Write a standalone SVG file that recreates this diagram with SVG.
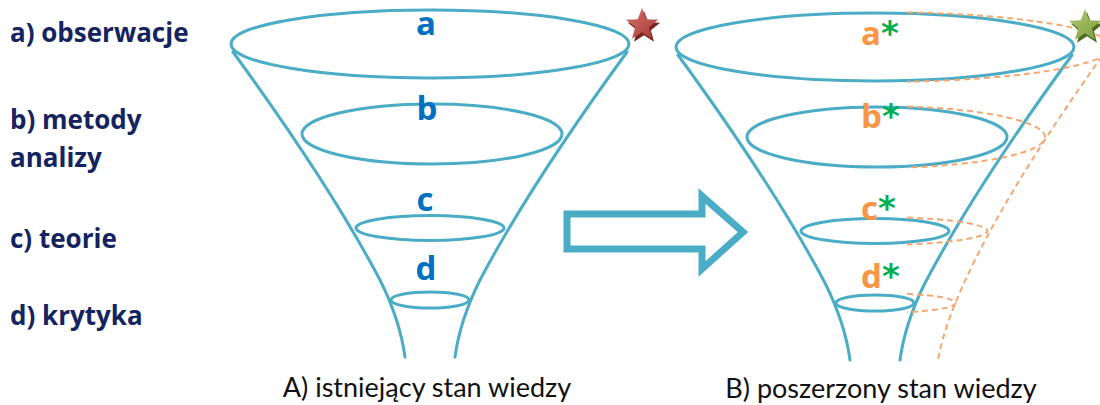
<svg xmlns="http://www.w3.org/2000/svg" width="1100" height="405" viewBox="0 0 1100 405">
<style>
.side{fill:none;stroke:#4BACC6;stroke-width:3;stroke-linecap:round}
.dash{fill:none;stroke:#F4A870;stroke-width:2;stroke-dasharray:6 4}
.lbl{font-family:"Open Sans",Lato,sans-serif;font-weight:bold;font-size:26px;fill:#14245E}
.fl{font-family:"Open Sans",Lato,sans-serif;font-weight:bold;font-size:33px}
.ast{font-family:"DejaVu Sans",sans-serif;font-weight:bold;font-size:34px;fill:#00B050}
.cap{font-family:Lato,"Open Sans",sans-serif;font-size:27px;fill:#111}
</style>
<defs>
<polygon id="star" points="0,-17 4.23,-5.82 16.17,-5.25 6.85,2.22 9.99,13.75 0,7.2 -9.99,13.75 -6.85,2.22 -16.17,-5.25 -4.23,-5.82"/>
<linearGradient id="gr" x1="0" y1="0" x2="1" y2="1">
<stop offset="0" stop-color="#D9706C"/><stop offset="1" stop-color="#A33C39"/>
</linearGradient>
<linearGradient id="gg" x1="0" y1="0" x2="1" y2="1">
<stop offset="0" stop-color="#AFCB72"/><stop offset="1" stop-color="#7E9C40"/>
</linearGradient>
<g id="funnel">
<ellipse class="side" cx="430" cy="44" rx="199" ry="34"/>
<ellipse class="side" cx="432" cy="134" rx="130" ry="30"/>
<ellipse class="side" cx="430" cy="228" rx="74" ry="12.5"/>
<ellipse class="side" cx="430" cy="300" rx="39" ry="8"/>
<path class="side" d="M233,52 Q330,185 380,280 Q400,320 405,357"/>
<path class="side" d="M627,52 Q530,185 480,280 Q460,320 455,357"/>
</g>
</defs>
<g id="labels">
<text class="lbl" x="10" y="42">a) obserwacje</text>
<text class="lbl" x="10" y="129">b) metody</text>
<text class="lbl" x="10" y="167">analizy</text>
<text class="lbl" x="10" y="248">c) teorie</text>
<text class="lbl" x="10" y="325">d) krytyka</text>
</g>
<g id="funnelA">
<use href="#funnel"/>
<text class="fl" fill="#0070C0" text-anchor="middle" x="426" y="35">a</text>
<text class="fl" fill="#0070C0" text-anchor="middle" x="427" y="120">b</text>
<text class="fl" fill="#0070C0" text-anchor="middle" x="425" y="211">c</text>
<text class="fl" fill="#0070C0" text-anchor="middle" x="426" y="280">d</text>
</g>
<g id="starA">
<use href="#star" transform="translate(644,28)" fill="#7A2422"/>
<use href="#star" transform="translate(642,25)" fill="url(#gr)"/>
</g>
<g id="arrow">
<polygon points="567,214 702,214 702,196 743,232 702,269 702,249 567,249" fill="#fff" stroke="#4BACC6" stroke-width="7" stroke-linejoin="miter"/>
</g>
<g id="funnelB">
<use href="#funnel" transform="translate(445,3)"/>
<text class="fl" x="861" y="45"><tspan fill="#F79646">a</tspan><tspan class="ast">*</tspan></text>
<text class="fl" x="861" y="128"><tspan fill="#F79646">b</tspan><tspan class="ast">*</tspan></text>
<text class="fl" x="861" y="220"><tspan fill="#F79646">c</tspan><tspan class="ast">*</tspan></text>
<text class="fl" x="861" y="288"><tspan fill="#F79646">d</tspan><tspan class="ast">*</tspan></text>
</g>
<g id="connectors">
<path class="dash" d="M907,12.3 A235,35 0 0 1 907,81.7"/>
<path class="dash" d="M907,106.5 A168,31 0 0 1 907,167.5"/>
<path class="dash" d="M907,217.6 A113,14 0 0 1 907,244.4"/>
<path class="dash" d="M907,293.8 A80,10 0 0 1 907,312.2"/>
<path class="dash" d="M1108,48 Q1020,170 975,260 Q945,320 938,360"/>
</g>
<g id="starB">
<use href="#star" transform="translate(1087,29)" fill="#4E6B22"/>
<use href="#star" transform="translate(1085,26)" fill="url(#gg)"/>
</g>
<g id="captions">
<text class="cap" text-anchor="middle" x="427" y="397">A) istniejący stan wiedzy</text>
<text class="cap" text-anchor="middle" x="881" y="398">B) poszerzony stan wiedzy</text>
</g>
</svg>
